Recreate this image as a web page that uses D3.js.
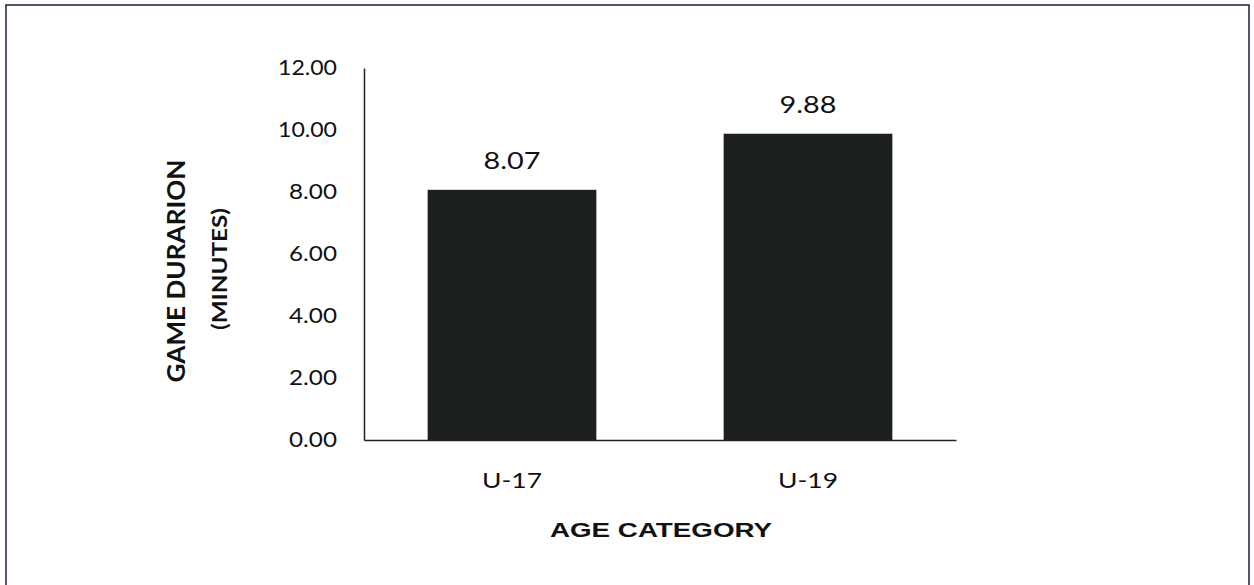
<!DOCTYPE html>
<html><head><meta charset="utf-8">
<script src="https://cdn.jsdelivr.net/npm/d3@7"></script>
<style>body{margin:0;background:#fff}svg{display:block}</style>
</head><body>
<svg id="c" width="1254" height="585"></svg>
<script>
const categories = ["U-17", "U-19"];
const values = [8.07, 9.88];
const yTicks = [0, 2, 4, 6, 8, 10, 12];
const yTitle = ["GAME DURARION", "(MINUTES)"];
const xTitle = "AGE CATEGORY";

const svg = d3.select("#c");
const numFont = "Lato, 'Open Sans', sans-serif";
const m = {left: 364, right: 956, top: 68, bottom: 440};

svg.append("rect").attr("x", 6).attr("y", 5).attr("width", 1243).attr("height", 600)
  .attr("fill", "none").attr("stroke", "#1e1e3a").attr("stroke-width", 1.5);

const x = d3.scaleBand().domain(categories).range([m.left, m.right])
  .paddingInner(0.43).paddingOuter(0.215);
const y = d3.scaleLinear().domain([0, 12]).range([m.bottom, m.top]);

// bars
svg.selectAll(".bar").data(values).enter().append("rect")
  .attr("x", (d, i) => x(categories[i]))
  .attr("y", d => y(d))
  .attr("width", x.bandwidth())
  .attr("height", d => y(0) - y(d))
  .attr("fill", "#1b201c");

// y axis
const ya = svg.append("g").attr("transform", `translate(${m.left},0)`)
  .call(d3.axisLeft(y).tickValues(yTicks).tickSize(0).tickPadding(27).tickFormat(d3.format(".2f")));
ya.attr("font-size", null).attr("font-family", null);
ya.select(".domain").attr("stroke", "#222").attr("stroke-width", 1.5);
ya.selectAll("text").style("font-family", numFont).style("font-size", "21px").attr("fill", "#111")
  .attr("textLength", d => d >= 10 ? 59 : 48).attr("lengthAdjust", "spacingAndGlyphs");

// x axis
const xa = svg.append("g").attr("transform", `translate(0,${m.bottom})`)
  .call(d3.axisBottom(x).tickSize(0).tickPadding(48));
xa.attr("font-size", null).attr("font-family", null);
xa.select(".domain").attr("stroke", "#222").attr("stroke-width", 1.5);
xa.selectAll("text").style("font-family", numFont).style("font-size", "21px").attr("fill", "#111")
  .attr("dy", "0").attr("textLength", 60).attr("lengthAdjust", "spacingAndGlyphs");

// value labels
svg.selectAll(".vl").data(values).enter().append("text")
  .attr("x", (d, i) => x(categories[i]) + x.bandwidth() / 2)
  .attr("y", d => y(d) - 21)
  .attr("text-anchor", "middle")
  .style("font-family", numFont).style("font-size", "24px").attr("fill", "#111")
  .attr("textLength", 57).attr("lengthAdjust", "spacingAndGlyphs")
  .text(d => d.toFixed(2));

// y title
const yPos = [[185, 271, 25, 223], [227, 269, 21, 122]];
yTitle.forEach((t, i) => {
  svg.append("text")
    .attr("transform", `translate(${yPos[i][0]},${yPos[i][1]}) rotate(-90)`)
    .attr("text-anchor", "middle")
    .style("font-family", numFont).attr("font-weight", "bold")
    .style("font-size", yPos[i][2] + "px").attr("fill", "#111")
    .attr("textLength", yPos[i][3]).attr("lengthAdjust", "spacingAndGlyphs")
    .text(t);
});

// x title
svg.append("text").attr("x", 661).attr("y", 537).attr("text-anchor", "middle")
  .style("font-family", "'Liberation Sans', Arial, sans-serif").attr("font-weight", "bold")
  .style("font-size", "21px").attr("fill", "#111")
  .attr("textLength", 222).attr("lengthAdjust", "spacingAndGlyphs")
  .text(xTitle);
</script>
</body></html>
